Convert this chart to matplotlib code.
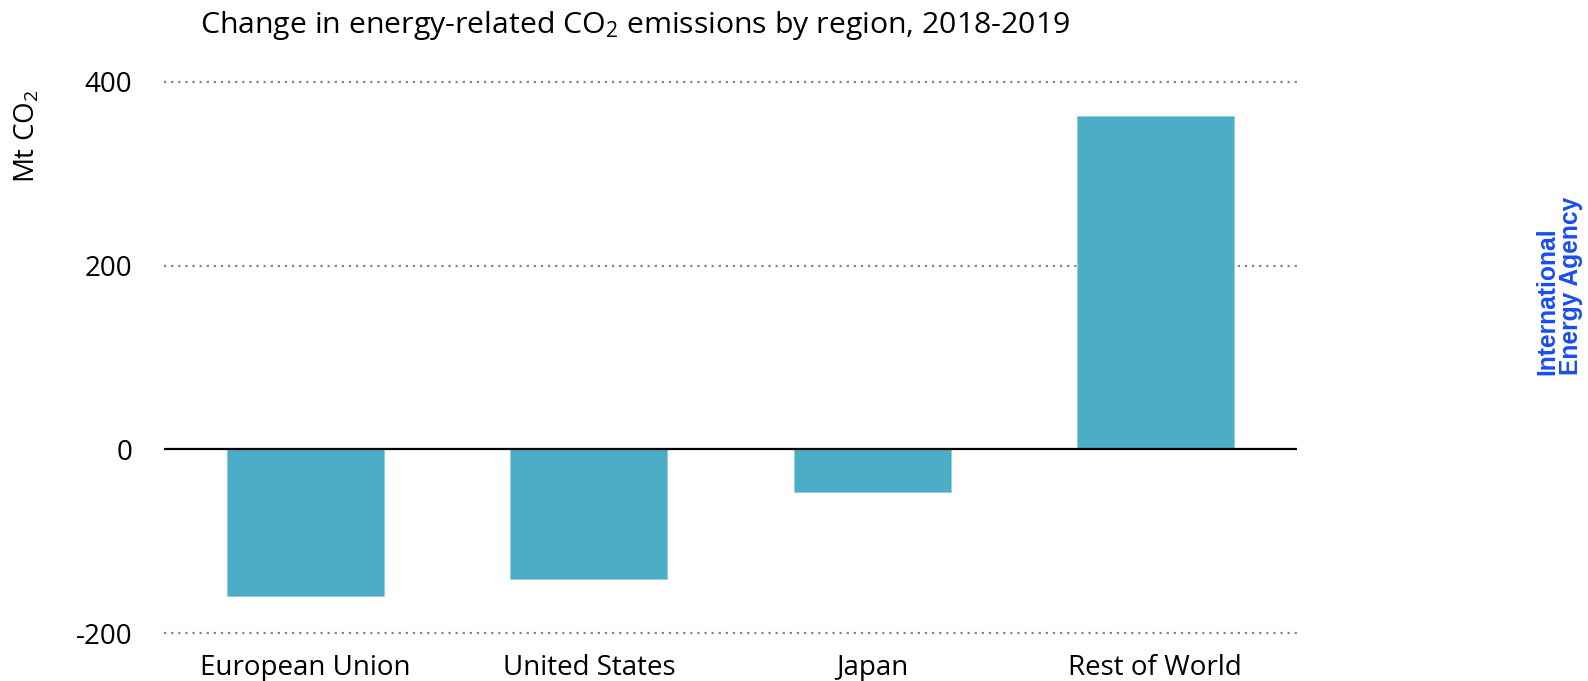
import matplotlib
matplotlib.use("Agg")
import matplotlib.pyplot as plt

plt.rcParams["font.family"] = ["Open Sans", "DejaVu Sans"]
plt.rcParams["mathtext.default"] = "regular"

regions = ["European Union", "United States", "Japan", "Rest of World"]
change_mt = [-160, -141, -46, 363]
y_ticks = [-200, 0, 200, 400]
y_tick_labels = ["-200", "0", "200", "400"]

bar_color = "#4BACC6"

fig = plt.figure(figsize=(15.88, 6.81), dpi=100)
ax = fig.add_axes([164 / 1588, 1 - 633 / 681, (1297 - 164) / 1588, (633 - 82) / 681])

x = list(range(len(regions)))
ax.bar(x, change_mt, width=0.555, color=bar_color, edgecolor="#8fd0e0",
       linewidth=0.6, zorder=2)

ax.set_xlim(-0.5, len(regions) - 0.5)
ax.set_ylim(-200, 400)
ax.set_yticks(y_ticks)
ax.set_yticklabels(y_tick_labels)
ax.set_xticks(x)
ax.set_xticklabels(regions)

for v in y_ticks:
    if v != 0:
        ax.axhline(v, color="#858585", linestyle=(0, (1, 2.2)), linewidth=1.6,
                   zorder=1, clip_on=False)
ax.axhline(0, color="black", linewidth=1.6, zorder=3)

for s in ax.spines.values():
    s.set_visible(False)
ax.tick_params(axis="both", length=0, labelsize=20, colors="black")
ax.tick_params(axis="y", pad=23)
ax.tick_params(axis="x", pad=15)

fig.text(200 / 1588, 1 - 26 / 681,
         "Change in energy-related CO$_2$ emissions by region, 2018-2019",
         fontsize=21.8, ha="left", va="center")
fig.text(27 / 1588, 1 - 136 / 681, "Mt CO$_2$", fontsize=20, rotation=90,
         ha="center", va="center")

fig.text(1559 / 1588, 1 - 286 / 681, "International\nEnergy Agency",
         rotation=90, ha="center", va="center", multialignment="left",
         color="#1a4cf5", fontsize=17.7, fontweight="bold",
         family=["Liberation Sans", "DejaVu Sans"], linespacing=0.95)

fig.savefig("out.png", dpi=100)
